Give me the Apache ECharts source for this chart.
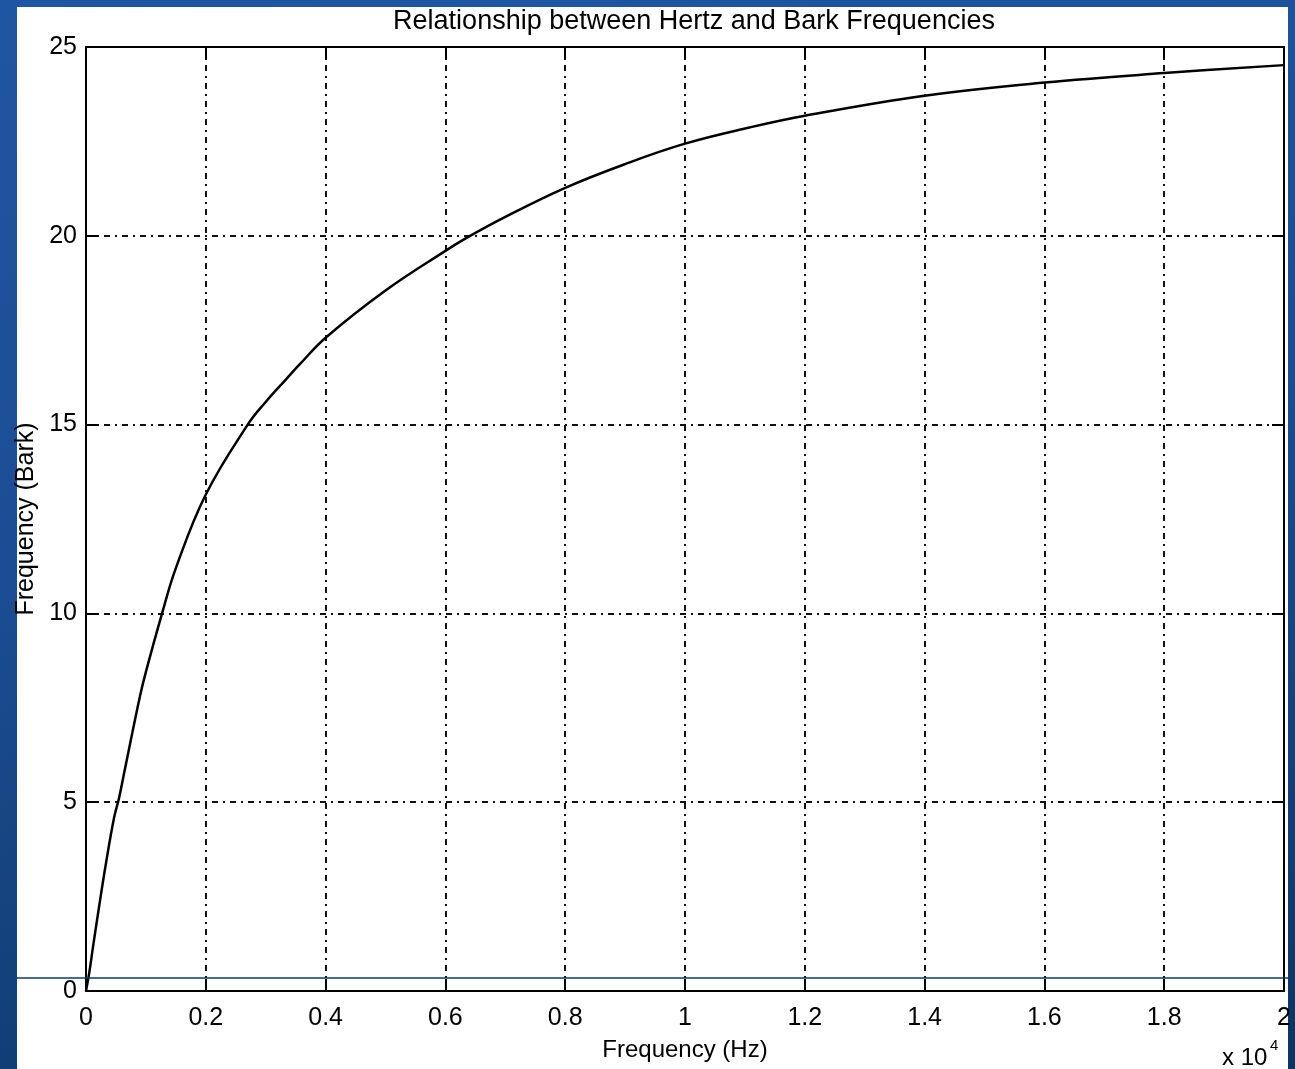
<!DOCTYPE html>
<html>
<head>
<meta charset="utf-8">
<title>Hertz vs Bark</title>
<script src="https://cdn.jsdelivr.net/npm/echarts@6/dist/echarts.min.js"></script>
<style>
    html, body { margin: 0; padding: 0; }
    #main {
        width: 1295px;
        height: 1069px;
        background: linear-gradient(170deg, #1f56a3 0%, #1a4d93 45%, #123f78 80%, #0a3461 100%);
    }
</style>
</head>
<body>
<div id="main"></div>
<script>
// frequency in units of 10^4 Hz (axis shows "x 10^4")
var hzValues = [0, 0.0056, 0.012, 0.022, 0.033, 0.047, 0.055, 0.064, 0.090, 0.1, 0.127, 0.15, 0.2,
    0.27, 0.3, 0.334, 0.357, 0.4, 0.5, 0.6, 0.636, 0.7, 0.8, 0.9, 1.0, 1.108, 1.2, 1.4, 1.6, 1.8, 2.0];
// bark values
var barkValues = [0, 0.5, 1.2, 2.25, 3.35, 4.6, 5.1, 5.8, 7.8, 8.45, 10.0, 11.2, 13.15,
    15.0, 15.6, 16.2, 16.6, 17.3, 18.55, 19.6, 19.95, 20.5, 21.27, 21.9, 22.44, 22.87, 23.18, 23.71, 24.06, 24.31, 24.52];

var titleText = 'Relationship between Hertz and Bark Frequencies';
var xName = 'Frequency (Hz)';
var yName = 'Frequency (Bark)';

var font = '"Liberation Sans", Arial, sans-serif';

var chartDom = document.getElementById('main');
var myChart = echarts.init(chartDom);

var points = hzValues.map(function (v, i) { return [v, barkValues[i]]; });

function gridLine() {
    return { show: true, lineStyle: { color: '#111', width: 2, type: [6, 5, 2, 5] } };
}
function ticks() {
    return { show: true, inside: true, length: 12, lineStyle: { color: '#000', width: 2 } };
}
function axisLine() {
    return { show: true, onZero: false, lineStyle: { color: '#000', width: 2 } };
}

var option = {
    backgroundColor: 'transparent',
    animation: false,
    title: {
        text: titleText,
        left: 689,
        top: 3,
        textAlign: 'center',
        textStyle: { color: '#000', fontSize: 27, fontWeight: 'normal', fontFamily: font }
    },
    graphic: [
        {
            type: 'rect',
            z: -10,
            silent: true,
            shape: { x: 17, y: 7, width: 1271, height: 1062 },
            style: { fill: '#fff' }
        },
        {
            type: 'line',
            z: 100,
            silent: true,
            shape: { x1: 17, y1: 978, x2: 1288, y2: 978 },
            style: { stroke: '#0d3a6b', lineWidth: 1.5 }
        },
        {
            type: 'text',
            z: 100,
            left: 1222,
            top: 1046,
            style: { text: 'x 10', fill: '#000', font: '24px ' + font }
        },
        {
            type: 'text',
            z: 100,
            left: 1270,
            top: 1038,
            style: { text: '4', fill: '#000', font: '15px ' + font }
        }
    ],
    grid: { left: 86, top: 47, width: 1198, height: 944 },
    xAxis: [
        {
            type: 'value',
            min: 0,
            max: 2,
            interval: 0.2,
            name: xName,
            nameLocation: 'middle',
            nameGap: 47,
            nameTextStyle: { color: '#000', fontSize: 24, fontFamily: font },
            axisLine: axisLine(),
            axisTick: ticks(),
            axisLabel: { color: '#000', fontSize: 25, fontFamily: font, margin: 15 },
            splitLine: gridLine()
        },
        {
            type: 'value',
            position: 'top',
            min: 0,
            max: 2,
            interval: 0.2,
            axisLine: axisLine(),
            axisTick: ticks(),
            axisLabel: { show: false },
            splitLine: { show: false }
        }
    ],
    yAxis: [
        {
            type: 'value',
            min: 0,
            max: 25,
            interval: 5,
            name: yName,
            nameLocation: 'middle',
            nameGap: 44,
            nameTextStyle: { color: '#000', fontSize: 25, fontFamily: font },
            axisLine: axisLine(),
            axisTick: ticks(),
            axisLabel: { color: '#000', fontSize: 25, fontFamily: font, margin: 9 },
            splitLine: gridLine()
        },
        {
            type: 'value',
            position: 'right',
            min: 0,
            max: 25,
            interval: 5,
            axisLine: axisLine(),
            axisTick: ticks(),
            axisLabel: { show: false },
            splitLine: { show: false }
        }
    ],
    series: [
        {
            type: 'line',
            data: points,
            smooth: 0.4,
            showSymbol: false,
            lineStyle: { color: '#000', width: 2.5 }
        }
    ]
};

option && myChart.setOption(option);
window.addEventListener('resize', () => {
    myChart && myChart.resize();
});
</script>
</body>
</html>
